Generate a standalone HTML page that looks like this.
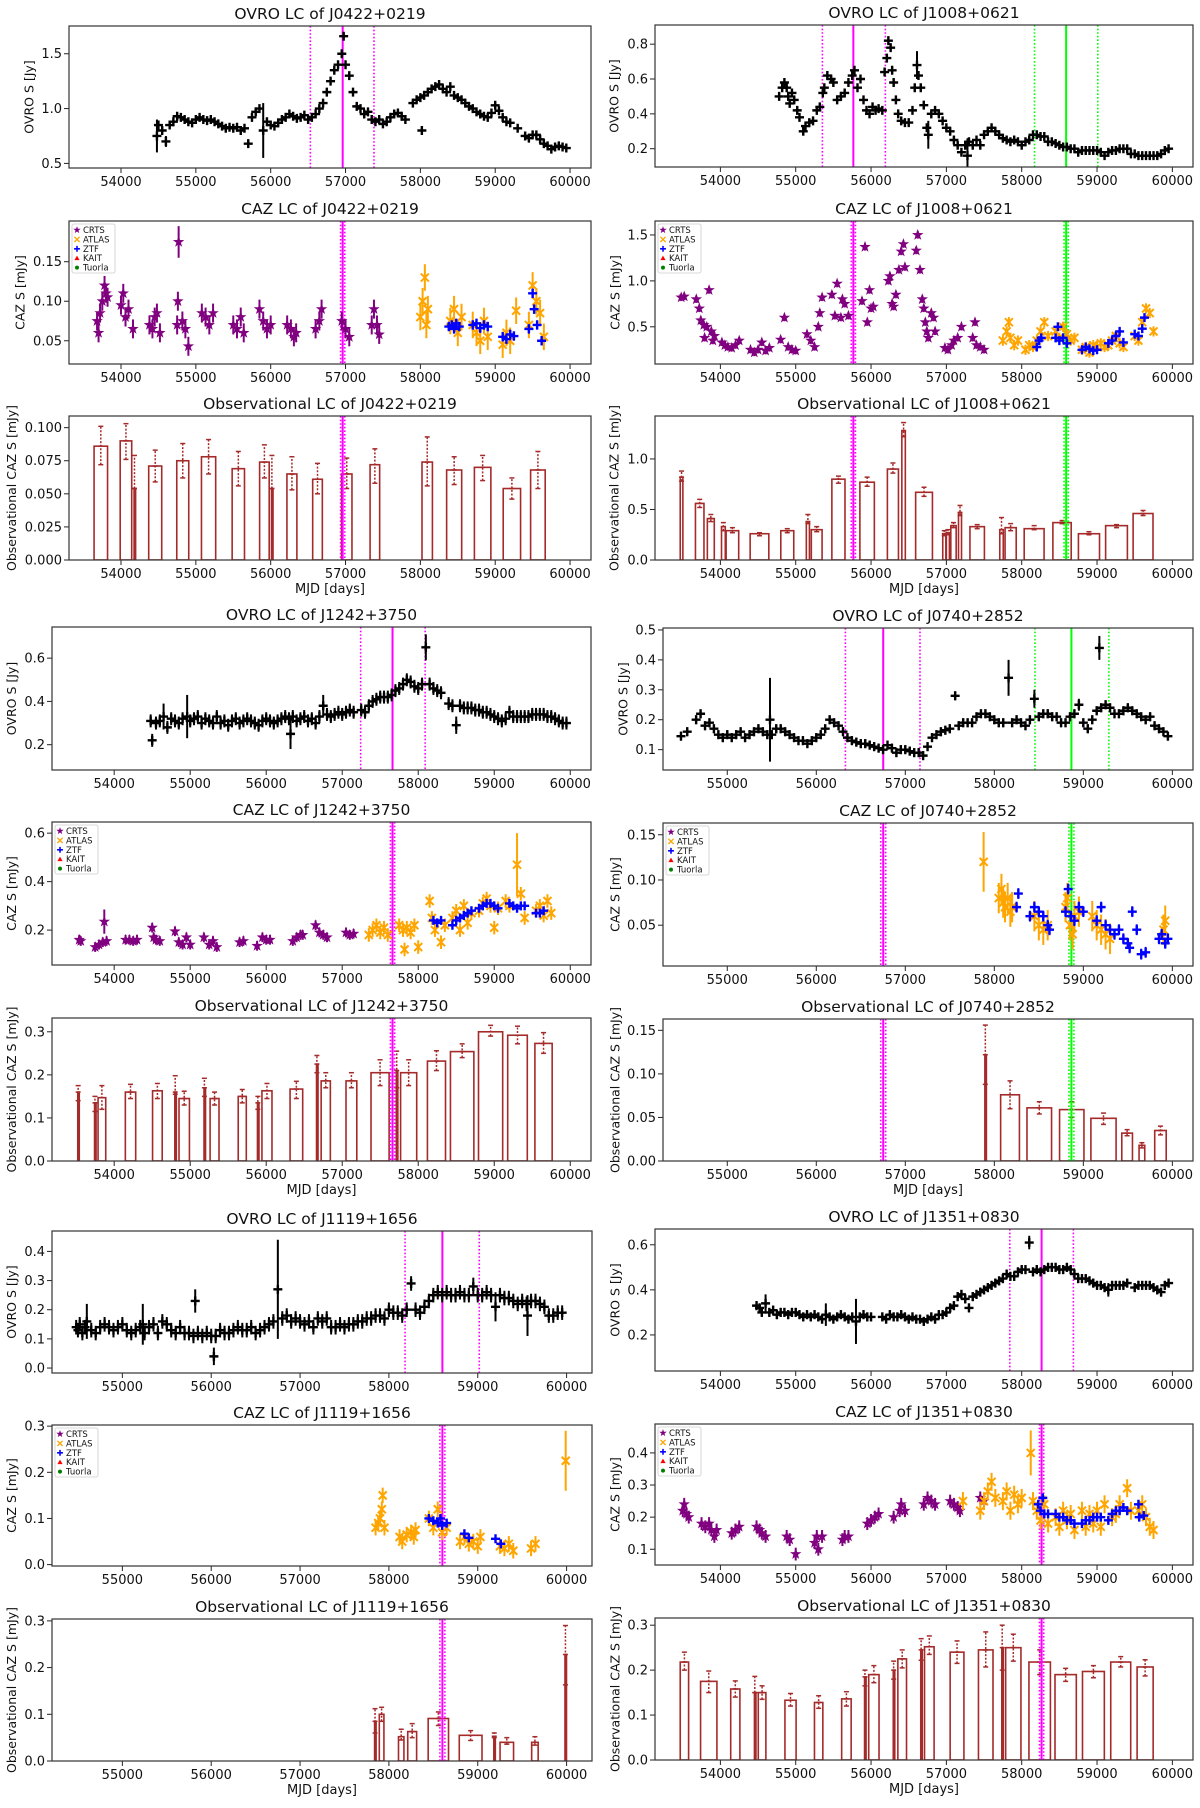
<!DOCTYPE html>
<html><head><meta charset="utf-8"><title>Light curves</title>
<style>
html,body{margin:0;padding:0;background:#fff;}
svg text{font-family:"DejaVu Sans","Liberation Sans",sans-serif;fill:#111;}
</style></head>
<body>
<svg id="fig" xmlns="http://www.w3.org/2000/svg" width="1200" height="1803" viewBox="0 0 1200 1803"></svg>
<script>
// ---------- DATA: OVRO radio light curves [mjd, flux, err?] ----------
const ovroJ0422=[[54480,0.75,0.15],[54500,0.85],[54550,0.80],[54600,0.70,0.05],[54650,0.85],[54700,0.88],[54750,0.93],[54800,0.92],[54850,0.90],[54900,0.88],[54950,0.87],[55000,0.90],[55050,0.92],[55100,0.90],[55150,0.89],[55200,0.90],[55250,0.88],[55300,0.86],[55350,0.84],[55400,0.82],[55450,0.83],[55500,0.82],[55550,0.83],[55600,0.80],[55650,0.82],[55700,0.68],[55750,0.92],[55800,0.97],[55850,1.00],[55900,0.80,0.25],[55950,0.88],[56000,0.85],[56050,0.84],[56100,0.87],[56150,0.90],[56200,0.92],[56250,0.95],[56300,0.93],[56350,0.91],[56400,0.92],[56450,0.94],[56500,0.90],[56550,0.92],[56600,0.95],[56650,1.00],[56700,1.05],[56750,1.15],[56800,1.25],[56850,1.35],[56900,1.40],[56950,1.50],[56975,1.66],[57000,1.40],[57050,1.30],[57100,1.15],[57150,1.02],[57200,1.00],[57250,0.95],[57300,0.97],[57350,0.90],[57400,0.88],[57450,0.90],[57500,0.86],[57550,0.88],[57600,0.92],[57650,0.95],[57700,0.96],[57750,0.93],[57800,0.90],[57900,1.05],[57950,1.08],[58000,1.10],[58020,0.80],[58050,1.12],[58100,1.15],[58150,1.18],[58200,1.20],[58250,1.22],[58300,1.18],[58350,1.15],[58400,1.20],[58450,1.12],[58500,1.10],[58550,1.08],[58600,1.05],[58650,1.02],[58700,1.00],[58750,0.97],[58800,0.95],[58850,0.93],[58900,0.92],[58950,0.96],[59000,1.03],[59050,0.98],[59100,0.92],[59150,0.88],[59200,0.87],[59300,0.82],[59400,0.75],[59450,0.73],[59500,0.76],[59550,0.76],[59600,0.72],[59650,0.68],[59700,0.66],[59750,0.63],[59800,0.65],[59850,0.66],[59900,0.65],[59950,0.64]];
const ovroJ1008=[[54780,0.50],[54820,0.55],[54850,0.58],[54880,0.55],[54900,0.50],[54920,0.46],[54950,0.52],[54980,0.48],[55020,0.42],[55050,0.38],[55100,0.30],[55130,0.33],[55180,0.35],[55230,0.36],[55280,0.42],[55320,0.44],[55360,0.52],[55380,0.55],[55420,0.62],[55470,0.60],[55500,0.58],[55550,0.48],[55600,0.50],[55650,0.52],[55700,0.58],[55750,0.62],[55780,0.65],[55820,0.55],[55860,0.60],[55900,0.48],[55940,0.42],[55980,0.40],[56020,0.44],[56060,0.42],[56100,0.43],[56150,0.42],[56180,0.64],[56210,0.72],[56230,0.82],[56260,0.78],[56280,0.65],[56300,0.58],[56330,0.48],[56360,0.40],[56400,0.36],[56450,0.35],[56500,0.35],[56550,0.42],[56580,0.55],[56610,0.68,0.08],[56630,0.62],[56660,0.55],[56700,0.45],[56740,0.32],[56760,0.28,0.08],[56800,0.40],[56850,0.42],[56900,0.40],[56950,0.36],[57000,0.32],[57050,0.30],[57100,0.25],[57150,0.22],[57200,0.18],[57250,0.22],[57280,0.16,0.1],[57300,0.24],[57350,0.22],[57400,0.25],[57450,0.22],[57500,0.28],[57550,0.30],[57600,0.32],[57650,0.30],[57700,0.28],[57750,0.26],[57800,0.25],[57850,0.24],[57900,0.25],[57950,0.24],[58000,0.22],[58050,0.24],[58100,0.25],[58150,0.28],[58200,0.28],[58250,0.27],[58300,0.27],[58350,0.24],[58400,0.24],[58450,0.23],[58500,0.22],[58550,0.21],[58600,0.21],[58650,0.20],[58700,0.20],[58750,0.18],[58800,0.19],[58850,0.19],[58900,0.19],[58950,0.19],[59000,0.19],[59050,0.18],[59100,0.16],[59150,0.18],[59200,0.19],[59250,0.19],[59300,0.20],[59350,0.20],[59400,0.20],[59450,0.17],[59500,0.17],[59550,0.16],[59600,0.16],[59650,0.16],[59700,0.16],[59750,0.16],[59800,0.16],[59850,0.17],[59900,0.19],[59950,0.20]];
const ovroJ1242=[[54480,0.31],[54500,0.22],[54550,0.30],[54600,0.31],[54650,0.33,0.06],[54700,0.28],[54750,0.32],[54800,0.31],[54850,0.30],[54900,0.32],[54960,0.33,0.1],[55000,0.31],[55050,0.32],[55100,0.33],[55150,0.30],[55200,0.32],[55250,0.31],[55300,0.30],[55350,0.33],[55400,0.30],[55450,0.31],[55500,0.29],[55550,0.31],[55600,0.32],[55650,0.30],[55700,0.31],[55750,0.32],[55800,0.31],[55850,0.30],[55900,0.29],[55950,0.31],[56000,0.32],[56050,0.31],[56100,0.30],[56150,0.31],[56200,0.32],[56250,0.33],[56300,0.32],[56320,0.25,0.07],[56350,0.33],[56400,0.31],[56450,0.32],[56500,0.33],[56550,0.31],[56600,0.32],[56650,0.30],[56700,0.33],[56750,0.38,0.05],[56800,0.34],[56850,0.33],[56900,0.34],[56950,0.35],[57000,0.34],[57050,0.35],[57100,0.36],[57150,0.35],[57250,0.36],[57300,0.35],[57350,0.38],[57400,0.40],[57450,0.41],[57500,0.42],[57550,0.42],[57600,0.42],[57650,0.43],[57700,0.45],[57750,0.46],[57800,0.48],[57850,0.50],[57900,0.49],[57950,0.47],[58000,0.46],[58050,0.48],[58100,0.65,0.06],[58150,0.48],[58200,0.46],[58250,0.45],[58300,0.44],[58400,0.39],[58450,0.38],[58500,0.29,0.04],[58550,0.38],[58600,0.37],[58650,0.37],[58700,0.37],[58750,0.36],[58800,0.36],[58850,0.35],[58900,0.35],[58950,0.34],[59000,0.33],[59050,0.32],[59100,0.31],[59150,0.32],[59200,0.35],[59250,0.33],[59300,0.33],[59350,0.33],[59400,0.33],[59450,0.33],[59500,0.34],[59550,0.34],[59600,0.34],[59650,0.34],[59700,0.33],[59750,0.33],[59800,0.32],[59850,0.31],[59900,0.30],[59950,0.30]];
const ovroJ0740=[[54480,0.145],[54550,0.16],[54650,0.20],[54700,0.22],[54750,0.18],[54800,0.19],[54850,0.17],[54900,0.15],[54950,0.14],[55000,0.15],[55050,0.14],[55100,0.15],[55150,0.16],[55200,0.14],[55250,0.15],[55300,0.16],[55350,0.17],[55400,0.16],[55450,0.15],[55480,0.20,0.14],[55500,0.15],[55550,0.17],[55600,0.17],[55650,0.16],[55700,0.15],[55750,0.14],[55800,0.13],[55850,0.13],[55900,0.12],[55950,0.13],[56000,0.14],[56050,0.15],[56100,0.17],[56150,0.20],[56200,0.19],[56250,0.18],[56300,0.16],[56350,0.14],[56400,0.13],[56450,0.125],[56500,0.12],[56550,0.12],[56600,0.115],[56650,0.11],[56700,0.105],[56750,0.10],[56800,0.115],[56850,0.105],[56900,0.09],[56950,0.10],[57000,0.10],[57050,0.095],[57100,0.09],[57150,0.09],[57200,0.08],[57250,0.11],[57300,0.14],[57350,0.15],[57400,0.16],[57450,0.165],[57500,0.17],[57560,0.28],[57600,0.18],[57650,0.19],[57700,0.19],[57750,0.19],[57800,0.21],[57850,0.22],[57900,0.22],[57950,0.21],[58000,0.20],[58050,0.19],[58100,0.19],[58160,0.34,0.06],[58200,0.19],[58250,0.20],[58300,0.19],[58350,0.18],[58400,0.20],[58450,0.27,0.03],[58500,0.21],[58550,0.22],[58600,0.22],[58650,0.21],[58700,0.21],[58750,0.19],[58800,0.19],[58850,0.21],[58900,0.22],[58950,0.25,0.02],[59000,0.19],[59050,0.17],[59100,0.20],[59150,0.23],[59180,0.44,0.04],[59200,0.24],[59250,0.25],[59300,0.24],[59350,0.22],[59400,0.22],[59450,0.23],[59500,0.24],[59550,0.23],[59600,0.22],[59650,0.21],[59700,0.20],[59750,0.21],[59800,0.18],[59850,0.17],[59900,0.16],[59950,0.145]];
const ovroJ1119=[[54480,0.14],[54500,0.13],[54520,0.15],[54550,0.12],[54580,0.14],[54600,0.16,0.06],[54650,0.13],[54700,0.12],[54750,0.14],[54800,0.15],[54850,0.14],[54900,0.13],[54950,0.14],[55000,0.15],[55050,0.13],[55100,0.12],[55150,0.13],[55200,0.14],[55230,0.15,0.07],[55250,0.12],[55300,0.14],[55350,0.15],[55400,0.12],[55450,0.16],[55500,0.15],[55550,0.13],[55600,0.12],[55650,0.14],[55700,0.12],[55750,0.12],[55800,0.11],[55820,0.23,0.04],[55850,0.12],[55900,0.11],[55950,0.12],[56000,0.11],[56030,0.04,0.03],[56050,0.11],[56100,0.13],[56150,0.12],[56200,0.12],[56250,0.13],[56300,0.14],[56350,0.13],[56400,0.13],[56450,0.14],[56500,0.12],[56550,0.13],[56600,0.14],[56650,0.15],[56700,0.16],[56750,0.27,0.17],[56800,0.17],[56850,0.18],[56900,0.16],[56950,0.17],[57000,0.16],[57050,0.15],[57100,0.16],[57150,0.14],[57200,0.17],[57250,0.16],[57300,0.17],[57350,0.14],[57400,0.14],[57450,0.15],[57500,0.14],[57550,0.15],[57600,0.15],[57650,0.16],[57700,0.16],[57750,0.17],[57800,0.17],[57850,0.18],[57900,0.18],[57950,0.17],[58000,0.20],[58050,0.19],[58100,0.19],[58150,0.18],[58200,0.20],[58250,0.29],[58300,0.20],[58350,0.19],[58400,0.21],[58450,0.23],[58500,0.25],[58550,0.26],[58600,0.25],[58650,0.26],[58700,0.25],[58750,0.25],[58800,0.26],[58850,0.25],[58900,0.25],[58950,0.28,0.03],[59000,0.25],[59050,0.25],[59100,0.26],[59150,0.25],[59200,0.21,0.05],[59250,0.25],[59300,0.24],[59350,0.24],[59400,0.23],[59450,0.22],[59500,0.23],[59550,0.22],[59560,0.18,0.07],[59600,0.23],[59650,0.23],[59700,0.22],[59750,0.21],[59800,0.18],[59850,0.18],[59900,0.19],[59950,0.19]];
const ovroJ1351=[[54480,0.33],[54520,0.32],[54550,0.30],[54600,0.34,0.04],[54650,0.30],[54700,0.31],[54750,0.29],[54800,0.30],[54850,0.30],[54900,0.29],[54950,0.30],[55000,0.30],[55050,0.29],[55100,0.28],[55150,0.29],[55200,0.28],[55250,0.29],[55300,0.28],[55350,0.27],[55400,0.29,0.05],[55450,0.28],[55500,0.27],[55550,0.28],[55600,0.29],[55650,0.28],[55700,0.27],[55750,0.28],[55800,0.26,0.1],[55850,0.28],[55900,0.29],[55950,0.28],[56000,0.28],[56150,0.28],[56200,0.27],[56250,0.29],[56300,0.28],[56350,0.28],[56400,0.29],[56450,0.28],[56500,0.27],[56550,0.28],[56600,0.27],[56650,0.27],[56700,0.26],[56750,0.27],[56800,0.28],[56850,0.27],[56900,0.29],[56950,0.29],[57000,0.30],[57050,0.32],[57100,0.33],[57150,0.37],[57200,0.38],[57250,0.36],[57300,0.32],[57350,0.37],[57400,0.38],[57450,0.39],[57500,0.40],[57550,0.41],[57600,0.42],[57650,0.43],[57700,0.44],[57750,0.45],[57800,0.47],[57850,0.46],[57900,0.46],[57950,0.48],[58000,0.49],[58050,0.49],[58100,0.61,0.03],[58150,0.48],[58200,0.49],[58250,0.48],[58300,0.49],[58350,0.50],[58400,0.50],[58450,0.50],[58500,0.49],[58550,0.49],[58600,0.50],[58650,0.49],[58700,0.47],[58750,0.45],[58800,0.45],[58850,0.45],[58900,0.44],[58950,0.43],[59000,0.42],[59050,0.42],[59100,0.41],[59150,0.40,0.03],[59200,0.42],[59250,0.42],[59300,0.42],[59350,0.42],[59400,0.43],[59500,0.41],[59550,0.42],[59600,0.42],[59650,0.42],[59700,0.42],[59750,0.41],[59800,0.40],[59850,0.39],[59900,0.42],[59950,0.43]];

// ---------- DATA: optical (CAZ) light curves [mjd, flux, err?] ----------
const crtsJ0422=[[53680,0.075],[53700,0.06],[53720,0.085],[53750,0.10],[53780,0.12],[53800,0.11],[53820,0.105],[54000,0.095],[54030,0.11],[54060,0.08],[54100,0.09],[54160,0.065],[54380,0.07],[54420,0.065],[54450,0.08],[54480,0.085],[54520,0.06],[54750,0.07],[54760,0.10],[54770,0.175,0.02],[54820,0.075],[54860,0.065],[54900,0.043],[55080,0.085],[55130,0.08],[55180,0.07],[55230,0.085],[55500,0.07],[55550,0.065],[55600,0.08],[55640,0.06],[55850,0.09],[55900,0.075],[55950,0.065],[56000,0.07],[56220,0.07],[56270,0.065],[56310,0.055],[56340,0.06],[56600,0.065],[56650,0.075],[56680,0.09],[56950,0.075],[57000,0.065],[57050,0.055],[57350,0.07],[57380,0.09],[57420,0.07],[57450,0.058]];
const atlasJ0422=[[58000,0.08],[58030,0.10],[58060,0.13],[58080,0.07],[58100,0.09],[58400,0.075],[58450,0.09],[58500,0.06],[58550,0.08],[58700,0.07],[58750,0.06],[58800,0.05],[58850,0.075],[58900,0.055],[59100,0.045],[59150,0.06],[59200,0.05],[59280,0.088],[59450,0.07],[59500,0.12],[59550,0.10],[59600,0.085],[59650,0.055]];
const ztfJ0422=[[58380,0.068],[58420,0.07],[58450,0.065],[58480,0.072],[58520,0.068],[58700,0.07],[58750,0.072],[58800,0.066],[58850,0.07],[58900,0.068],[59100,0.055],[59150,0.052],[59200,0.058],[59250,0.056],[59450,0.065],[59500,0.11],[59520,0.09],[59560,0.07],[59620,0.05]];
const crtsJ1008=[[53480,0.82],[53520,0.83],[53680,0.80],[53720,0.70],[53740,0.57],[53780,0.52],[53790,0.38],[53820,0.50],[53850,0.90],[53880,0.45],[53900,0.35],[53920,0.40],[54020,0.33],[54060,0.30],[54100,0.28],[54150,0.27],[54200,0.30],[54250,0.35],[54400,0.25],[54450,0.22],[54500,0.25],[54550,0.33],[54600,0.24],[54650,0.27],[54800,0.36],[54850,0.60],[54900,0.28],[54950,0.25],[55000,0.24],[55150,0.42],[55200,0.35],[55250,0.28],[55300,0.50],[55320,0.65],[55350,0.82],[55480,0.85],[55520,0.62],[55550,0.97],[55600,0.60],[55620,0.80],[55650,0.75],[55700,0.62],[55880,0.78],[55920,1.37],[55950,0.55],[55980,0.90],[56000,0.70],[56030,0.72],[56230,1.00],[56250,1.05],[56280,0.75],[56300,0.72],[56330,0.85],[56370,1.12],[56400,1.32],[56430,1.40],[56450,1.15],[56600,1.33],[56620,1.50],[56650,1.12],[56680,0.80],[56700,0.70],[56720,0.55],[56740,0.45],[56760,0.38],[56800,0.65],[56830,0.60],[56850,0.45],[56980,0.27],[57020,0.25],[57070,0.30],[57100,0.35],[57150,0.38],[57200,0.50],[57350,0.38],[57380,0.55],[57400,0.30],[57450,0.28],[57500,0.25]];
const atlasJ1008=[[57750,0.35],[57800,0.45],[57830,0.55],[57850,0.38],[57900,0.30],[57950,0.35],[58050,0.25],[58100,0.30],[58150,0.28],[58200,0.35],[58250,0.45],[58300,0.55],[58350,0.40],[58450,0.45],[58500,0.38],[58550,0.50],[58600,0.42],[58650,0.35],[58700,0.38],[58800,0.25],[58850,0.28],[58900,0.22],[58950,0.30],[59000,0.28],[59050,0.32],[59100,0.28],[59150,0.30],[59200,0.35],[59250,0.40],[59300,0.32],[59350,0.28],[59500,0.40],[59550,0.35],[59600,0.55],[59650,0.70],[59700,0.65],[59750,0.45]];
const ztfJ1008=[[58200,0.28],[58230,0.35],[58260,0.38],[58450,0.38],[58480,0.50],[58500,0.35],[58550,0.38],[58600,0.32],[58800,0.25],[58850,0.28],[58900,0.26],[58950,0.24],[59000,0.25],[59150,0.32],[59200,0.35],[59250,0.40],[59300,0.45],[59350,0.33],[59500,0.42],[59550,0.40],[59600,0.48],[59630,0.60]];
const crtsJ1242=[[53540,0.16],[53560,0.155],[53750,0.13],[53800,0.14],[53850,0.15],[53870,0.235,0.05],[53900,0.155],[54150,0.16],[54200,0.16],[54250,0.155],[54300,0.16],[54500,0.21],[54520,0.17],[54550,0.16],[54600,0.155],[54800,0.195],[54850,0.15],[54900,0.14],[54950,0.17],[55000,0.14],[55180,0.17],[55250,0.14],[55300,0.155],[55350,0.13],[55650,0.15],[55700,0.155],[55880,0.135],[55950,0.17],[56000,0.16],[56050,0.16],[56350,0.155],[56400,0.17],[56450,0.18],[56480,0.18],[56650,0.22],[56700,0.19],[56750,0.18],[56800,0.17],[57050,0.19],[57100,0.18],[57150,0.185]];
const atlasJ1242=[[57350,0.18],[57400,0.20],[57450,0.22],[57500,0.19],[57550,0.21],[57600,0.18],[57750,0.22],[57800,0.20],[57820,0.12],[57850,0.21],[57900,0.19],[57950,0.22],[58000,0.13],[58150,0.32],[58180,0.25],[58220,0.20],[58300,0.15],[58350,0.22],[58450,0.25],[58500,0.28],[58550,0.20],[58600,0.30],[58650,0.23],[58700,0.27],[58800,0.28],[58850,0.31],[58900,0.33],[58950,0.30],[59000,0.21],[59050,0.29],[59150,0.32],[59200,0.30],[59300,0.47,0.13],[59350,0.35],[59400,0.25],[59550,0.28],[59600,0.30],[59650,0.26],[59700,0.32],[59750,0.27]];
const ztfJ1242=[[58200,0.24],[58250,0.23],[58300,0.24],[58450,0.22],[58500,0.24],[58550,0.25],[58600,0.26],[58650,0.27],[58700,0.28],[58800,0.29],[58850,0.30],[58900,0.31],[58950,0.31],[59000,0.30],[59050,0.29],[59200,0.31],[59250,0.30],[59300,0.29],[59350,0.30],[59400,0.30],[59550,0.27],[59600,0.27],[59650,0.28]];
const crtsJ0740=[];
const atlasJ0740=[[57880,0.12,0.033],[58050,0.08],[58080,0.09],[58100,0.075],[58120,0.07],[58150,0.08],[58180,0.065],[58200,0.07],[58450,0.06],[58500,0.05],[58550,0.045],[58600,0.05],[58800,0.07],[58820,0.08],[58850,0.05],[58880,0.04],[58900,0.06],[58950,0.065],[59100,0.06],[59150,0.05],[59200,0.045],[59250,0.04],[59300,0.035],[59900,0.045],[59920,0.055]];
const ztfJ0740=[[58250,0.07],[58270,0.085],[58400,0.06],[58450,0.07],[58500,0.065],[58550,0.06],[58600,0.05],[58620,0.045],[58800,0.065],[58830,0.09],[58860,0.06],[58900,0.055],[58950,0.07],[59000,0.065],[59150,0.055],[59200,0.07],[59250,0.05],[59300,0.045],[59350,0.04],[59400,0.045],[59450,0.035],[59500,0.03],[59520,0.025],[59550,0.065],[59600,0.045],[59650,0.018],[59700,0.02],[59850,0.035],[59880,0.04],[59920,0.03],[59950,0.035]];
const crtsJ1119=[];
const atlasJ1119=[[57850,0.08],[57880,0.09],[57900,0.10],[57920,0.12],[57930,0.15],[57950,0.08],[58120,0.06],[58150,0.05],[58200,0.065],[58250,0.07],[58280,0.06],[58300,0.075],[58450,0.10],[58500,0.08],[58550,0.12],[58600,0.07],[58650,0.08],[58800,0.05],[58850,0.06],[58900,0.045],[58950,0.05],[59000,0.04],[59030,0.06],[59250,0.04],[59300,0.035],[59350,0.045],[59400,0.03],[59600,0.035],[59650,0.045],[59990,0.225,0.065]];
const ztfJ1119=[[58450,0.10],[58500,0.095],[58550,0.09],[58580,0.10],[58600,0.085],[58650,0.09],[58850,0.067],[58900,0.058],[59200,0.056],[59260,0.045]];
const crtsJ1351=[[53500,0.22],[53520,0.24],[53550,0.21],[53580,0.20],[53750,0.18],[53800,0.17],[53850,0.18],[53880,0.16],[53920,0.14],[53950,0.16],[54150,0.15],[54200,0.16],[54250,0.17],[54480,0.17],[54520,0.16],[54550,0.15],[54600,0.14],[54880,0.14],[54920,0.13],[55000,0.085],[55250,0.12],[55280,0.14],[55300,0.10],[55350,0.14],[55620,0.13],[55650,0.14],[55700,0.14],[55950,0.18],[56000,0.19],[56050,0.20],[56100,0.21],[56300,0.20],[56380,0.22],[56400,0.24],[56450,0.22],[56700,0.24],[56750,0.26],[56800,0.25],[56850,0.24],[57050,0.25],[57100,0.24],[57150,0.23],[57180,0.22],[57450,0.26],[57500,0.25]];
const atlasJ1351=[[57220,0.25],[57450,0.22],[57500,0.25],[57550,0.28],[57600,0.31],[57650,0.26],[57750,0.25],[57800,0.28],[57850,0.22],[57900,0.27],[57950,0.24],[58000,0.26],[58120,0.40,0.07],[58150,0.25],[58200,0.22],[58250,0.19],[58300,0.24],[58350,0.18],[58450,0.20],[58500,0.17],[58550,0.22],[58600,0.19],[58650,0.21],[58700,0.16],[58800,0.22],[58850,0.17],[58900,0.21],[58950,0.18],[59000,0.22],[59050,0.17],[59100,0.24],[59200,0.20],[59250,0.21],[59300,0.24],[59400,0.29],[59450,0.22],[59550,0.22],[59600,0.24],[59650,0.20],[59700,0.17],[59750,0.16]];
const ztfJ1351=[[58220,0.24],[58250,0.22],[58280,0.26],[58300,0.21],[58350,0.21],[58450,0.21],[58500,0.20],[58550,0.20],[58600,0.19],[58650,0.19],[58700,0.18],[58800,0.18],[58850,0.19],[58900,0.19],[58950,0.20],[59000,0.20],[59050,0.20],[59150,0.19],[59200,0.21],[59250,0.22],[59300,0.22],[59350,0.23],[59400,0.22],[59550,0.24],[59560,0.20],[59620,0.205]];

// ---------- DATA: observational bars [start, end, value, lo, hi] ----------
const obsJ0422=[[53640,53820,0.086,0.072,0.101],[53989,54143,0.090,0.076,0.103],[54175,54185,0.054,0.054,0.079],[54370,54544,0.071,0.059,0.083],[54745,54905,0.075,0.062,0.088],[55075,55265,0.078,0.065,0.091],[55485,55650,0.069,0.056,0.082],[55852,55980,0.074,0.062,0.087],[56011,56021,0.054,0.054,0.079],[56217,56350,0.065,0.053,0.078],[56561,56690,0.061,0.050,0.073],[56947,57086,0.065,0.054,0.077],[57328,57456,0.072,0.058,0.084],[58022,58161,0.074,0.056,0.093],[58351,58552,0.068,0.057,0.078],[58722,58942,0.070,0.060,0.079],[59107,59339,0.054,0.046,0.062],[59473,59668,0.068,0.054,0.082]];
const obsJ1008=[[53467,53502,0.82,0.78,0.88],[53669,53782,0.56,0.52,0.60],[53827,53919,0.41,0.38,0.45],[54015,54065,0.33,0.29,0.37],[54076,54243,0.29,0.27,0.32],[54395,54643,0.26,0.24,0.27],[54802,54974,0.29,0.27,0.31],[55141,55182,0.38,0.36,0.45],[55207,55350,0.30,0.28,0.33],[55480,55654,0.80,0.76,0.83],[55852,56044,0.77,0.73,0.82],[56217,56364,0.90,0.86,0.96],[56409,56455,1.28,1.22,1.36],[56592,56815,0.67,0.63,0.72],[56952,56993,0.26,0.24,0.29],[57000,57040,0.27,0.25,0.30],[57059,57130,0.34,0.32,0.37],[57161,57201,0.47,0.44,0.54],[57313,57505,0.33,0.31,0.35],[57709,57755,0.30,0.26,0.42],[57779,57927,0.32,0.29,0.36],[58033,58297,0.31,0.30,0.34],[58414,58657,0.37,0.36,0.39],[58753,59033,0.26,0.25,0.28],[59114,59403,0.34,0.32,0.35],[59479,59743,0.46,0.44,0.49]];
const obsJ1242=[[53521,53531,0.16,0.14,0.175],[53742,53752,0.135,0.115,0.15],[53788,53889,0.147,0.12,0.175],[54147,54283,0.16,0.145,0.178],[54505,54632,0.163,0.145,0.18],[54798,54808,0.16,0.155,0.198],[54853,54990,0.145,0.13,0.162],[55182,55192,0.17,0.15,0.192],[55262,55379,0.145,0.13,0.16],[55632,55738,0.15,0.135,0.166],[55885,55895,0.135,0.12,0.15],[55944,56076,0.163,0.145,0.18],[56314,56480,0.167,0.145,0.185],[56662,56672,0.225,0.205,0.245],[56723,56844,0.186,0.17,0.205],[57050,57192,0.186,0.17,0.205],[57379,57617,0.205,0.175,0.235],[57712,57722,0.21,0.17,0.255],[57768,57980,0.205,0.175,0.235],[58121,58359,0.232,0.21,0.256],[58424,58732,0.254,0.24,0.272],[58793,59111,0.30,0.29,0.315],[59177,59435,0.292,0.272,0.313],[59535,59762,0.273,0.25,0.298]];
const obsJ0740=[[57894,57904,0.122,0.088,0.156],[58071,58282,0.076,0.06,0.092],[58367,58643,0.061,0.054,0.068],[58733,59007,0.059,0.05,0.068],[59085,59368,0.049,0.042,0.055],[59432,59552,0.032,0.029,0.036],[59626,59690,0.018,0.015,0.021],[59802,59931,0.035,0.03,0.04]];
const obsJ1119=[[57839,57849,0.085,0.06,0.112],[57892,57944,0.10,0.085,0.115],[58108,58169,0.052,0.045,0.068],[58212,58312,0.063,0.05,0.08],[58442,58671,0.091,0.076,0.105],[58792,59048,0.055,0.044,0.065],[59181,59191,0.053,0.05,0.06],[59251,59403,0.04,0.036,0.05],[59607,59680,0.04,0.034,0.052],[59982,59992,0.228,0.163,0.29]];
const obsJ1351=[[53467,53578,0.218,0.20,0.24],[53737,53954,0.175,0.15,0.198],[54137,54259,0.158,0.14,0.176],[54452,54462,0.15,0.15,0.186],[54503,54604,0.15,0.135,0.165],[54857,55005,0.133,0.12,0.148],[55249,55360,0.128,0.115,0.143],[55610,55736,0.136,0.12,0.152],[55914,55924,0.185,0.165,0.20],[55969,56106,0.19,0.172,0.21],[56295,56305,0.20,0.18,0.22],[56356,56471,0.225,0.205,0.245],[56660,56670,0.245,0.222,0.27],[56710,56837,0.252,0.235,0.276],[57050,57233,0.24,0.215,0.265],[57426,57619,0.245,0.207,0.285],[57736,57746,0.25,0.20,0.30],[57787,57990,0.25,0.22,0.28],[58096,58381,0.218,0.19,0.245],[58442,58725,0.19,0.175,0.204],[58807,59097,0.197,0.183,0.21],[59182,59447,0.218,0.207,0.23],[59532,59745,0.207,0.187,0.223]];

// ---------- flare epochs [centre, lower, upper] ----------
const flareJ0422=[56962,56530,57380];
const flareJ1008=[55765,55354,56190];
const greenJ1008=[58590,58170,59010];
const flareJ1242=[57662,57243,58091];
const flareJ0740=[56752,56327,57165];
const greenJ0740=[58866,58457,59287];
const flareJ1119=[58602,58182,59017];
const flareJ1351=[58264,57842,58686];

// ---------- y tick labels ----------
const ticksOvroJ0422=['0.5','1.0','1.5'], ticksCazJ0422=['0.05','0.10','0.15'], ticksObsJ0422=['0.000','0.025','0.050','0.075','0.100'];
const ticksOvroJ1008=['0.2','0.4','0.6','0.8'], ticksCazJ1008=['0.5','1.0','1.5'], ticksObsJ1008=['0.0','0.5','1.0'];
const ticksOvroJ1242=['0.2','0.4','0.6'], ticksCazJ1242=['0.2','0.4','0.6'], ticksObsJ1242=['0.0','0.1','0.2','0.3'];
const ticksOvroJ0740=['0.1','0.2','0.3','0.4','0.5'], ticksCazJ0740=['0.05','0.10','0.15'], ticksObsJ0740=['0.00','0.05','0.10','0.15'];
const ticksOvroJ1119=['0.0','0.1','0.2','0.3','0.4'], ticksCazJ1119=['0.0','0.1','0.2','0.3'], ticksObsJ1119=['0.0','0.1','0.2','0.3'];
const ticksOvroJ1351=['0.2','0.4','0.6'], ticksCazJ1351=['0.1','0.2','0.3','0.4'], ticksObsJ1351=['0.0','0.1','0.2','0.3'];

// ---------- rendering ----------
const NS='http://www.w3.org/2000/svg';
const fig=document.getElementById('fig');
let clipId=0;
function mk(tag,attrs,parent){const e=document.createElementNS(NS,tag);for(const k in attrs)e.setAttribute(k,attrs[k]);(parent||fig).appendChild(e);return e;}

function axes(g,cfg){
  const {x0,x1,y0,y1,xlim,ylim}=cfg;
  const sx=v=>x0+(v-xlim[0])/(xlim[1]-xlim[0])*(x1-x0);
  const sy=v=>y1-(v-ylim[0])/(ylim[1]-ylim[0])*(y1-y0);
  const frame=mk('rect',{x:x0,y:y0,width:x1-x0,height:y1-y0,fill:'#fff',stroke:'none'},g);
  
  
  const id='c'+(clipId++);
  const cp=mk('clipPath',{id:id},g);
  mk('rect',{x:x0,y:y0,width:x1-x0,height:y1-y0},cp);
  const inner=mk('g',{'clip-path':'url(#'+id+')'},g);
  for(let t=Math.ceil(xlim[0]/1000)*1000;t<=xlim[1];t+=1000){
    const X=sx(t);
    const tk=mk('line',{x1:X,x2:X,y1:y1,y2:y1+5,stroke:'#222','stroke-width':1},g);
    
    
    const tl=mk('text',{x:X,y:y1+18,'text-anchor':'middle','font-size':13},g);
    tl.textContent=String(t);
    
    
  }
  cfg.yticks.forEach(s=>{
    const Y=sy(parseFloat(s));
    const tk=mk('line',{x1:x0-5,x2:x0,y1:Y,y2:Y,stroke:'#222','stroke-width':1},g);
    
    
    const tl=mk('text',{x:x0-7,y:Y+4.5,'text-anchor':'end','font-size':13},g);
    tl.textContent=s;
    
    
  });
  const yl=mk('text',{x:0,y:0,'text-anchor':'middle','font-size':12.5,transform:'translate('+(cfg.ylx+4.5)+','+((y0+y1)/2)+') rotate(-90)'},g);
  yl.textContent=cfg.ylabel;
  
  
  const ti=mk('text',{x:(x0+x1)/2,y:y0-7,'text-anchor':'middle','font-size':15.5},g);
  ti.textContent=cfg.title;
  
  
  if(cfg.xlabel){
    const xl=mk('text',{x:(x0+x1)/2,y:y1+33,'text-anchor':'middle','font-size':13},g);
    xl.textContent='MJD [days]';
    
    
  }
  return {sx,sy,inner,finish:()=>{
    const b=mk('rect',{x:x0,y:y0,width:x1-x0,height:y1-y0,fill:'none',stroke:'#333','stroke-width':1.2},g);
    
    
  }};
}

function vlines(A,cfg,main,color,wide){
  const c=main[0];
  const pos=wide?[[main[1],'dot'],[main[2],'dot'],[c,'solid']]:[[c-28,'dot'],[c+28,'dot'],[c,'solid']];
  pos.forEach(([v,st])=>{
    const X=A.sx(v);
    const l=mk('line',{x1:X,x2:X,y1:cfg.y0,y2:cfg.y1,stroke:color,'stroke-width':st==='solid'?2:1.6,'stroke-dasharray':st==='dot'?'1.6,2':'none'},A.inner);
    
    
  });
}

function marker(type,X,Y,color,parent){
  let m;
  if(type==='plus'){m=mk('path',{d:`M${X-4.5},${Y}H${X+4.5}M${X},${Y-4.5}V${Y+4.5}`,stroke:color,'stroke-width':2.4,fill:'none'},parent);}
  else if(type==='x'){m=mk('path',{d:`M${X-4},${Y-4}L${X+4},${Y+4}M${X-4},${Y+4}L${X+4},${Y-4}`,stroke:color,'stroke-width':2,fill:'none'},parent);}
  else if(type==='star'){let d='';for(let i=0;i<10;i++){const r=i%2?2.4:6,a=-Math.PI/2+i*Math.PI/5;d+=(i?'L':'M')+(X+r*Math.cos(a)).toFixed(1)+','+(Y+r*Math.sin(a)).toFixed(1);}m=mk('path',{d:d+'Z',fill:color,stroke:'none'},parent);}
  else if(type==='tri'){m=mk('path',{d:`M${X},${Y-4}L${X+4},${Y+3}L${X-4},${Y+3}Z`,fill:color},parent);}
  else {m=mk('circle',{cx:X,cy:Y,r:2,fill:color},parent);}
  return m;
}

function series(A,data,defErr,type,color,name){
  const g=mk('g',{},A.inner);
  
  
  data.forEach(p=>{
    const e=p.length>2?p[2]:defErr;
    const X=A.sx(p[0]),Y=A.sy(p[1]);
    const eb=mk('line',{x1:X,x2:X,y1:A.sy(p[1]-e),y2:A.sy(p[1]+e),stroke:color,'stroke-width':2},g);
    
    
    const m=marker(type,X,Y,color,g);
    
    
  });
}

function bars(A,data){
  const col='#a52a2a';
  data.forEach(b=>{
    const xa=A.sx(b[0]),xb=A.sx(b[1]);
    const r=mk('rect',{x:xa,y:A.sy(b[2]),width:Math.max(xb-xa,1.5),height:A.sy(0)-A.sy(b[2]),fill:'#fff',stroke:col,'stroke-width':1.6},A.inner);
    
    
    const xm=(xa+xb)/2;
    const e=mk('line',{x1:xm,x2:xm,y1:A.sy(b[3]),y2:A.sy(b[4]),stroke:col,'stroke-width':1.5,'stroke-dasharray':'2,1.6'},A.inner);
    
    
    [b[3],b[4],b[2]].forEach(v=>{
      const c=mk('line',{x1:xm-2.5,x2:xm+2.5,y1:A.sy(v),y2:A.sy(v),stroke:col,'stroke-width':1.5},A.inner);
      
      
    });
  });
}

function legend(A,cfg){
  const g=mk('g',{},fig);
  
  
  const bx=cfg.x0+3,by=cfg.y0+3;
  mk('rect',{x:bx,y:by,width:43,height:49,rx:2,fill:'#fff','fill-opacity':0.85,stroke:'#ccc','stroke-width':0.8},g);
  const items=[['CRTS','star','#800080'],['ATLAS','x','#ffa500'],['ZTF','plus','#0000ff'],['KAIT','tri','#ff0000'],['Tuorla','dot','#008000']];
  items.forEach((it,i)=>{
    const Y=by+6+i*9.4;
    const ge=mk('g',{},g);
    
    
    const m=marker(it[1],bx+5,Y,it[2],ge);
    if(it[1]!=='dot')m.setAttribute('transform',`translate(${bx+5},${Y}) scale(0.65) translate(${-(bx+5)},${-Y})`);
    const t=mk('text',{x:bx+11,y:Y+3,'font-size':8.5},ge);
    t.textContent=it[0];
  });
}

function block(b){
  const gb=mk('g',{},fig);
  
  
  const c1={x0:b.x0,x1:b.x1,y0:b.p[0][0],y1:b.p[0][1],xlim:b.xlim,ylim:b.yl[0],yticks:b.t[0],ylabel:'OVRO S [Jy]',ylx:b.ylx[0],title:'OVRO LC of '+b.src};
  const g1=mk('g',{},gb);
  const A1=axes(g1,c1);
  vlines(A1,c1,b.flare,'#ff00ff',true);
  if(b.green)vlines(A1,c1,b.green,'#00ff00',true);
  series(A1,b.ovro,b.oerr,'plus','#000','ovro-series');
  A1.finish();
  const c2={x0:b.x0,x1:b.x1,y0:b.p[1][0],y1:b.p[1][1],xlim:b.xlim,ylim:b.yl[1],yticks:b.t[1],ylabel:'CAZ S [mJy]',ylx:b.ylx[1],title:'CAZ LC of '+b.src};
  const g2=mk('g',{},gb);
  const A2=axes(g2,c2);
  vlines(A2,c2,b.flare,'#ff00ff',false);
  if(b.green)vlines(A2,c2,b.green,'#00ff00',false);
  series(A2,b.crts,b.cerr,'star','#800080','crts-series');
  series(A2,b.atlas,b.cerr*1.4,'x','#ffa500','atlas-series');
  series(A2,b.ztf,b.cerr*0.5,'plus','#0000ff','ztf-series');
  A2.finish();
  legend(A2,c2);
  const c3={x0:b.x0,x1:b.x1,y0:b.p[2][0],y1:b.p[2][1],xlim:b.xlim,ylim:b.yl[2],yticks:b.t[2],ylabel:'Observational CAZ S [mJy]',ylx:b.ylx[2],title:'Observational LC of '+b.src,xlabel:true};
  const g3=mk('g',{},gb);
  const A3=axes(g3,c3);
  bars(A3,b.obs);
  vlines(A3,c3,b.flare,'#ff00ff',false);
  if(b.green)vlines(A3,c3,b.green,'#00ff00',false);
  A3.finish();
}

block({src:'J0422+0219',x0:69,x1:591,xlim:[53305,60280],p:[[26,168],[221,364],[416,560]],yl:[[0.458,1.753],[0.0206,0.2015],[0,0.1088]],t:[ticksOvroJ0422,ticksCazJ0422,ticksObsJ0422],ylx:[29,20,11.5],flare:flareJ0422,ovro:ovroJ0422,oerr:0.03,crts:crtsJ0422,atlas:atlasJ0422,ztf:ztfJ0422,cerr:0.012,obs:obsJ0422});
block({src:'J1008+0621',x0:655,x1:1193,xlim:[53132,60274],p:[[25,167],[221,364],[416,560]],yl:[[0.095,0.91],[0.095,1.652],[0,1.425]],t:[ticksOvroJ1008,ticksCazJ1008,ticksObsJ1008],ylx:[614,615,614],flare:flareJ1008,green:greenJ1008,ovro:ovroJ1008,oerr:0.02,crts:crtsJ1008,atlas:atlasJ1008,ztf:ztfJ1008,cerr:0.04,obs:obsJ1008});
block({src:'J1242+3750',x0:52,x1:591,xlim:[53182,60273],p:[[627,770],[822,965],[1018,1161]],yl:[[0.083,0.744],[0.056,0.646],[0,0.332]],t:[ticksOvroJ1242,ticksCazJ1242,ticksObsJ1242],ylx:[11.5,11.5,11.5],flare:flareJ1242,ovro:ovroJ1242,oerr:0.03,crts:crtsJ1242,atlas:atlasJ1242,ztf:ztfJ1242,cerr:0.02,obs:obsJ1242});
block({src:'J0740+2852',x0:663,x1:1193,xlim:[54278,60232],p:[[628,770],[823,966],[1019,1161]],yl:[[0.032,0.5065],[0.0049,0.163],[0,0.163]],t:[ticksOvroJ0740,ticksCazJ0740,ticksObsJ0740],ylx:[623,615,615],flare:flareJ0740,green:greenJ0740,ovro:ovroJ0740,oerr:0.015,crts:crtsJ0740,atlas:atlasJ0740,ztf:ztfJ0740,cerr:0.012,obs:obsJ0740});
block({src:'J1119+1656',x0:52,x1:592,xlim:[54208,60286],p:[[1231,1373],[1425,1566],[1619,1761]],yl:[[-0.017,0.47],[-0.003,0.3025],[0,0.304]],t:[ticksOvroJ1119,ticksCazJ1119,ticksObsJ1119],ylx:[11.5,11.5,11.5],flare:flareJ1119,ovro:ovroJ1119,oerr:0.025,crts:crtsJ1119,atlas:atlasJ1119,ztf:ztfJ1119,cerr:0.012,obs:obsJ1119});
block({src:'J1351+0830',x0:655,x1:1193,xlim:[53132,60274],p:[[1229,1371],[1424,1565],[1618,1760]],yl:[[0.04,0.67],[0.051,0.49],[0,0.316]],t:[ticksOvroJ1351,ticksCazJ1351,ticksObsJ1351],ylx:[615,615,615],flare:flareJ1351,ovro:ovroJ1351,oerr:0.02,crts:crtsJ1351,atlas:atlasJ1351,ztf:ztfJ1351,cerr:0.02,obs:obsJ1351});
</script>
</body></html>
